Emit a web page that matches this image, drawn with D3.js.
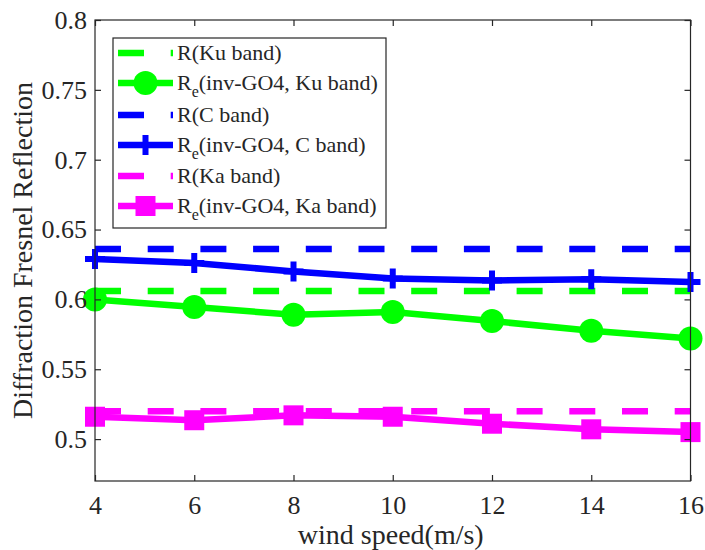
<!DOCTYPE html>
<html><head><meta charset="utf-8">
<script src="https://cdn.jsdelivr.net/npm/d3@7"></script>
<style>body{margin:0;background:#fff;} svg{display:block;} svg text{font-family:"Liberation Serif","Times New Roman",serif !important;fill:#262626;}</style>
</head><body>
<svg id="c" width="705" height="550"></svg>
<script>
const windSpeed = [4, 6, 8, 10, 12, 14, 16];
const xTicks = [4, 6, 8, 10, 12, 14, 16];
const yTicks = [0.5, 0.55, 0.6, 0.65, 0.7, 0.75, 0.8];
const yTickLabels = ["0.5", "0.55", "0.6", "0.65", "0.7", "0.75", "0.8"];
const rKu = 0.606;
const rC = 0.636;
const rKa = 0.520;
const reKu = [0.600, 0.5945, 0.589, 0.591, 0.5845, 0.5775, 0.572];
const reC = [0.629, 0.626, 0.620, 0.615, 0.6135, 0.6145, 0.6125];
const reKa = [0.516, 0.5135, 0.517, 0.516, 0.511, 0.507, 0.505];

const series = [
  {name: "R(Ku band)", dashed: true, color: "#00ff00", values: windSpeed.map(() => rKu)},
  {name: "Re(inv-GO4, Ku band)", dashed: false, color: "#00ff00", marker: "circle", values: reKu},
  {name: "R(C band)", dashed: true, color: "#0000ff", values: windSpeed.map(() => rC)},
  {name: "Re(inv-GO4, C band)", dashed: false, color: "#0000ff", marker: "plus", values: reC},
  {name: "R(Ka band)", dashed: true, color: "#ff00ff", values: windSpeed.map(() => rKa)},
  {name: "Re(inv-GO4, Ka band)", dashed: false, color: "#ff00ff", marker: "square", values: reKa}
];
const legendLabels = [
  {main: "R(Ku band)"}, {main: "R", sub: "e", rest: "(inv-GO4, Ku band)"},
  {main: "R(C band)"}, {main: "R", sub: "e", rest: "(inv-GO4, C band)"},
  {main: "R(Ka band)"}, {main: "R", sub: "e", rest: "(inv-GO4, Ka band)"}
];

const SERIF = '"Liberation Serif","Times New Roman",serif';
const L = 95, R = 690.5, T = 20, B = 481;
const svg = d3.select("#c");
const x = d3.scaleLinear().domain([4, 16]).range([L, R]);
const y = d3.scaleLinear().domain([0.47, 0.8]).range([B, T]);
const axisColor = "#262626";
const tickLen = 6;

// data
const lw = 6.5;
const dash = "26,26.7";
const line = d3.line().x((d, i) => x(windSpeed[i])).y(d => y(d));
const plot = svg.append("g");
series.forEach(s => {
  plot.append("path").attr("d", line(s.values)).attr("fill", "none")
    .attr("stroke", s.color).attr("stroke-width", lw)
    .attr("stroke-dasharray", s.dashed ? dash : null);
});
function drawMarker(g, type, cx, cy, color) {
  if (type === "circle") g.append("circle").attr("cx", cx).attr("cy", cy).attr("r", 12).attr("fill", color);
  else if (type === "square") g.append("rect").attr("x", cx - 10).attr("y", cy - 10).attr("width", 20).attr("height", 20).attr("fill", color);
  else if (type === "plus") g.append("path").attr("d", `M${cx-10},${cy}H${cx+10}M${cx},${cy-10}V${cy+10}`).attr("stroke", color).attr("stroke-width", 6);
}
series.forEach(s => {
  if (!s.marker) return;
  s.values.forEach((v, i) => drawMarker(plot, s.marker, x(windSpeed[i]), y(v), s.color));
});

// axes
const ax = svg.append("g").attr("stroke", axisColor).attr("stroke-width", 1.2).attr("fill", "none");
ax.append("rect").attr("x", L).attr("y", T).attr("width", R - L).attr("height", B - T);
const gxb = svg.append("g").attr("transform", `translate(0,${B})`)
  .call(d3.axisBottom(x).tickValues(xTicks).tickSizeInner(-tickLen).tickSizeOuter(0).tickPadding(15).tickFormat(d3.format("d")));
const gxt = svg.append("g").attr("transform", `translate(0,${T})`)
  .call(d3.axisTop(x).tickValues(xTicks).tickSizeInner(-tickLen).tickSizeOuter(0).tickFormat(""));
const gyl = svg.append("g").attr("transform", `translate(${L},0)`)
  .call(d3.axisLeft(y).tickValues(yTicks).tickSizeInner(-tickLen).tickSizeOuter(0).tickPadding(8).tickFormat((d, i) => yTickLabels[i]));
const gyr = svg.append("g").attr("transform", `translate(${R},0)`)
  .call(d3.axisRight(y).tickValues(yTicks).tickSizeInner(-tickLen).tickSizeOuter(0).tickFormat(""));
[gxb, gxt, gyl, gyr].forEach(g => {
  g.attr("font-family", SERIF).attr("font-size", null);
  g.select(".domain").remove();
  g.selectAll(".tick line").attr("stroke", axisColor).attr("stroke-width", 1.2);
  g.selectAll("text").style("font-family", SERIF).style("font-size", "26px").attr("fill", axisColor);
});

svg.append("text").attr("x", (L + R) / 2 - 2).attr("y", 544).attr("text-anchor", "middle")
  .style("font-family", SERIF).style("font-size", "28px").text("wind speed(m/s)");
svg.append("text").attr("transform", `translate(32,${(T + B) / 2}) rotate(-90)`).attr("text-anchor", "middle")
  .style("font-family", SERIF).style("font-size", "28px").text("Diffraction Fresnel Reflection");

// legend
const lg = svg.append("g");
lg.append("rect").attr("x", 113).attr("y", 38).attr("width", 273).attr("height", 190)
  .attr("fill", "#fff").attr("stroke", axisColor).attr("stroke-width", 1.2);
const rowY = [53, 83, 115, 145, 176, 206];
series.forEach((s, i) => {
  const yy = rowY[i];
  lg.append("line").attr("x1", 118).attr("x2", 173).attr("y1", yy).attr("y2", yy)
    .attr("stroke", s.color).attr("stroke-width", lw).attr("stroke-dasharray", s.dashed ? dash : null);
  if (s.marker) drawMarker(lg, s.marker, 145.5, yy, s.color);
  const lab = legendLabels[i];
  const t = lg.append("text").attr("x", 177).attr("y", yy + 7).style("font-family", SERIF).style("font-size", "22px");
  t.append("tspan").text(lab.main);
  if (lab.sub) {
    t.append("tspan").attr("dy", 7).style("font-size", "16px").text(lab.sub);
    t.append("tspan").attr("dy", -7).text(lab.rest);
  }
});
</script>
</body></html>
